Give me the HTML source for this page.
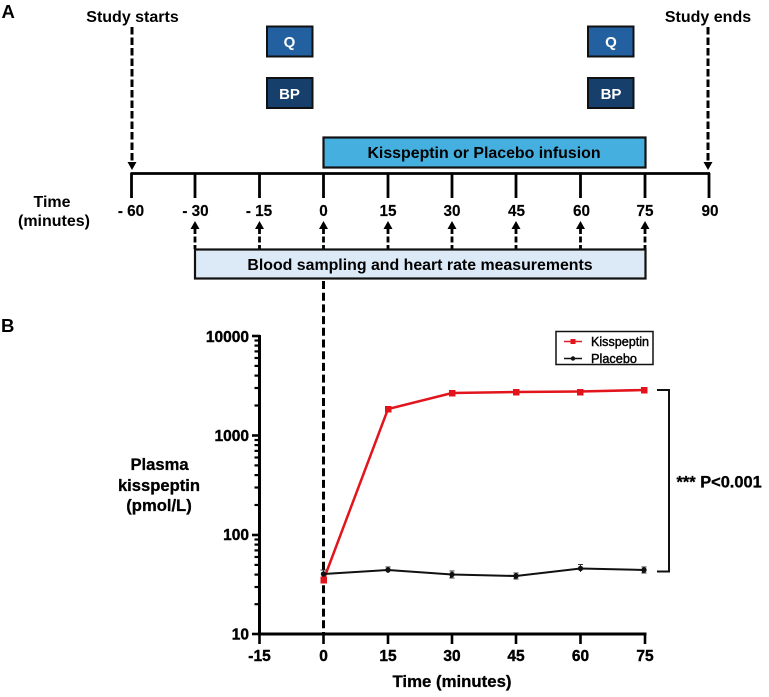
<!DOCTYPE html>
<html>
<head>
<meta charset="utf-8">
<style>
html,body{margin:0;padding:0;background:#fff;}
svg{display:block;}
text{font-family:"Liberation Sans",Arial,sans-serif;font-weight:bold;fill:#000;}
</style>
</head>
<body>
<svg width="769" height="697" viewBox="0 0 769 697" xmlns="http://www.w3.org/2000/svg">
<defs>
<g id="up"><path d="M-4.5 8 L0 0 L4.5 8 Z" fill="#000"/></g>
</defs>

<text x="1.5" y="18" font-size="18.5">A</text>
<text x="1" y="332" font-size="18.5">B</text>

<text x="132.5" y="22" font-size="16" text-anchor="middle">Study starts</text>
<text x="708" y="22" font-size="16" text-anchor="middle">Study ends</text>

<!-- Start/end dashed arrows -->
<line x1="132" y1="27" x2="132" y2="162" stroke="#000" stroke-width="3" stroke-dasharray="7.5 3"/>
<path d="M127.5 162 L136.5 162 L132 170 Z" fill="#000"/>
<line x1="708" y1="27" x2="708" y2="162" stroke="#000" stroke-width="3" stroke-dasharray="7.5 3"/>
<path d="M703.5 162 L712.5 162 L708 170 Z" fill="#000"/>

<!-- Q / BP boxes -->
<rect x="267" y="26.5" width="45.5" height="30" fill="#22609f" stroke="#111" stroke-width="2"/>
<text x="289.5" y="47" font-size="15" text-anchor="middle" style="fill:#fff">Q</text>
<rect x="267" y="78" width="45.5" height="30" fill="#173f6c" stroke="#111" stroke-width="2"/>
<text x="289.5" y="99" font-size="15" text-anchor="middle" style="fill:#fff">BP</text>
<rect x="588" y="26.5" width="45.5" height="30" fill="#22609f" stroke="#111" stroke-width="2"/>
<text x="611" y="47" font-size="15" text-anchor="middle" style="fill:#fff">Q</text>
<rect x="588" y="78" width="45.5" height="30" fill="#173f6c" stroke="#111" stroke-width="2"/>
<text x="611" y="99" font-size="15" text-anchor="middle" style="fill:#fff">BP</text>

<!-- Infusion -->
<rect x="323.5" y="137.5" width="322" height="30" fill="#45b0e0" stroke="#111" stroke-width="2.2"/>
<text x="484" y="158" font-size="15.9" text-anchor="middle">Kisspeptin or Placebo infusion</text>

<!-- Timeline -->
<line x1="130.5" y1="173.5" x2="710" y2="173.5" stroke="#000" stroke-width="2.8"/>
<g stroke="#000" stroke-width="2.8">
<line x1="131.5" y1="173" x2="131.5" y2="198"/>
<line x1="195" y1="173" x2="195" y2="198"/>
<line x1="259.5" y1="173" x2="259.5" y2="198"/>
<line x1="323.5" y1="173" x2="323.5" y2="198"/>
<line x1="388" y1="173" x2="388" y2="198"/>
<line x1="452" y1="173" x2="452" y2="198"/>
<line x1="516" y1="173" x2="516" y2="198"/>
<line x1="580.5" y1="173" x2="580.5" y2="198"/>
<line x1="645" y1="173" x2="645" y2="198"/>
<line x1="709" y1="173" x2="709" y2="198"/>
</g>
<g font-size="15.3" text-anchor="middle" stroke="#000" stroke-width="0.15">
<text x="131" y="216">- 60</text>
<text x="195.5" y="216">- 30</text>
<text x="259" y="216">- 15</text>
<text x="323.5" y="216">0</text>
<text x="388" y="216">15</text>
<text x="452" y="216">30</text>
<text x="516.5" y="216">45</text>
<text x="581.5" y="216">60</text>
<text x="645" y="216">75</text>
<text x="710" y="216">90</text>
</g>
<text x="52" y="207" font-size="16" text-anchor="middle">Time</text>
<text x="54" y="226" font-size="16" text-anchor="middle">(minutes)</text>

<!-- Sampling arrows -->
<g stroke="#000" stroke-width="2.8" stroke-dasharray="6 2.5">
<line x1="195" y1="228" x2="195" y2="249"/>
<line x1="259.5" y1="228" x2="259.5" y2="249"/>
<line x1="323.5" y1="228" x2="323.5" y2="249"/>
<line x1="388" y1="228" x2="388" y2="249"/>
<line x1="452" y1="228" x2="452" y2="249"/>
<line x1="516" y1="228" x2="516" y2="249"/>
<line x1="580.5" y1="228" x2="580.5" y2="249"/>
<line x1="645" y1="228" x2="645" y2="249"/>
</g>
<use href="#up" x="195" y="221"/>
<use href="#up" x="259.5" y="221"/>
<use href="#up" x="323.5" y="221"/>
<use href="#up" x="388" y="221"/>
<use href="#up" x="452" y="221"/>
<use href="#up" x="516" y="221"/>
<use href="#up" x="580.5" y="221"/>
<use href="#up" x="645" y="221"/>

<!-- Blood box -->
<rect x="195" y="249.5" width="450.5" height="29" fill="#dce9f6" stroke="#111" stroke-width="2.2"/>
<text x="420" y="270" font-size="15.9" text-anchor="middle">Blood sampling and heart rate measurements</text>

<!-- Zero dashed line -->
<line x1="323.5" y1="281" x2="323.5" y2="634" stroke="#000" stroke-width="3" stroke-dasharray="8 3.7"/>

<!-- Chart axes -->
<line x1="259.5" y1="335" x2="259.5" y2="635" stroke="#000" stroke-width="3"/>
<line x1="258" y1="634" x2="646.5" y2="634" stroke="#000" stroke-width="3"/>
<g stroke="#000" stroke-width="2.6">
<line x1="252" y1="336" x2="260" y2="336"/>
<line x1="252" y1="435.5" x2="260" y2="435.5"/>
<line x1="252" y1="535" x2="260" y2="535"/>
<line x1="252" y1="634" x2="260" y2="634"/>
<line x1="259.5" y1="634" x2="259.5" y2="644"/>
<line x1="323.5" y1="634" x2="323.5" y2="644"/>
<line x1="388" y1="634" x2="388" y2="644"/>
<line x1="452" y1="634" x2="452" y2="644"/>
<line x1="516" y1="634" x2="516" y2="644"/>
<line x1="580.5" y1="634" x2="580.5" y2="644"/>
<line x1="645" y1="634" x2="645" y2="644"/>
</g>
<g stroke="#000" stroke-width="2.2">
<line x1="254.5" y1="340.5" x2="260" y2="340.5"/><line x1="254.5" y1="345.6" x2="260" y2="345.6"/><line x1="254.5" y1="351.4" x2="260" y2="351.4"/><line x1="254.5" y1="358" x2="260" y2="358"/><line x1="254.5" y1="365.9" x2="260" y2="365.9"/><line x1="254.5" y1="375.6" x2="260" y2="375.6"/><line x1="254.5" y1="388" x2="260" y2="388"/><line x1="254.5" y1="405.5" x2="260" y2="405.5"/>
<line x1="254.5" y1="440" x2="260" y2="440"/><line x1="254.5" y1="445.1" x2="260" y2="445.1"/><line x1="254.5" y1="450.9" x2="260" y2="450.9"/><line x1="254.5" y1="457.5" x2="260" y2="457.5"/><line x1="254.5" y1="465.4" x2="260" y2="465.4"/><line x1="254.5" y1="475.1" x2="260" y2="475.1"/><line x1="254.5" y1="487.5" x2="260" y2="487.5"/><line x1="254.5" y1="505" x2="260" y2="505"/>
<line x1="254.5" y1="539.5" x2="260" y2="539.5"/><line x1="254.5" y1="544.6" x2="260" y2="544.6"/><line x1="254.5" y1="550.4" x2="260" y2="550.4"/><line x1="254.5" y1="557" x2="260" y2="557"/><line x1="254.5" y1="564.9" x2="260" y2="564.9"/><line x1="254.5" y1="574.6" x2="260" y2="574.6"/><line x1="254.5" y1="587" x2="260" y2="587"/><line x1="254.5" y1="604.2" x2="260" y2="604.2"/>
</g>
<g font-size="15.5" text-anchor="end" stroke="#000" stroke-width="0.4">
<text x="249" y="342">10000</text>
<text x="249" y="441">1000</text>
<text x="249" y="540">100</text>
<text x="249" y="639.5">10</text>
</g>
<g font-size="15.5" text-anchor="middle" stroke="#000" stroke-width="0.4">
<text x="259.5" y="661">-15</text>
<text x="323.5" y="661">0</text>
<text x="388" y="661">15</text>
<text x="452" y="661">30</text>
<text x="516" y="661">45</text>
<text x="580.5" y="661">60</text>
<text x="645" y="661">75</text>
</g>
<text x="452" y="687" font-size="16.8" text-anchor="middle" stroke="#000" stroke-width="0.3">Time (minutes)</text>

<g font-size="16.6" text-anchor="middle" stroke="#000" stroke-width="0.3">
<text x="159.5" y="470">Plasma</text>
<text x="159" y="491">kisspeptin</text>
<text x="159" y="511">(pmol/L)</text>
</g>

<!-- Red series -->
<polyline points="323.5,580 388,409 452,393 516,392 580,391.5 644,390" fill="none" stroke="#e2141c" stroke-width="2.5"/>
<g fill="#e3131b">
<rect x="320.5" y="576.5" width="6.5" height="7"/><rect x="385" y="406" width="6.5" height="6.5"/><rect x="449" y="390" width="6.5" height="6.5"/><rect x="513" y="389" width="6.5" height="6.5"/><rect x="577" y="389" width="6.5" height="6.5"/><rect x="641" y="387" width="6.5" height="6.5"/>
</g>

<!-- Black series -->
<polyline points="323.5,574 388,570 452,574.5 516,576 580.5,568.5 644,570" fill="none" stroke="#111" stroke-width="2"/>
<g stroke="#333" stroke-width="1">
<path d="M320.5 570H326.5M323.5 570V574"/>
<path d="M385.5 567H390.5M388 567V573"/>
<path d="M449.5 571H454.5M452 571V578H449.5M452 578H454.5"/>
<path d="M513.5 573H518.5M516 573V579H513.5M516 579H518.5"/>
<path d="M578 564.5H583M580.5 564.5V572"/>
<path d="M641.5 567H646.5M644 567V573H641.5M644 573H646.5"/>
</g>
<g fill="#111">
<circle cx="323.5" cy="574" r="2.7"/><circle cx="388" cy="570" r="2.7"/><circle cx="452" cy="574.5" r="2.7"/><circle cx="516" cy="576" r="2.7"/><circle cx="580.5" cy="568.5" r="2.7"/><circle cx="644" cy="570" r="2.7"/>
</g>

<!-- Legend -->
<rect x="556" y="331.5" width="97" height="33" fill="#fff" stroke="#111" stroke-width="1.5"/>
<line x1="564" y1="341.5" x2="582" y2="341.5" stroke="#e21f26" stroke-width="1.5"/>
<rect x="570.5" y="339" width="5" height="5" fill="#e3131b"/>
<line x1="564" y1="358.5" x2="582" y2="358.5" stroke="#111" stroke-width="1.5"/>
<circle cx="573" cy="358.5" r="2.2" fill="#111"/>
<text x="591" y="346" font-size="12.5" textLength="58" lengthAdjust="spacingAndGlyphs" style="font-weight:normal" stroke="#000" stroke-width="0.4">Kisspeptin</text>
<text x="591" y="363" font-size="12.5" textLength="46" lengthAdjust="spacingAndGlyphs" style="font-weight:normal" stroke="#000" stroke-width="0.4">Placebo</text>

<!-- Bracket -->
<path d="M657 390 H669 V571.5 H657" fill="none" stroke="#111" stroke-width="2"/>
<text x="676.5" y="487.5" font-size="16.4" stroke="#000" stroke-width="0.3">*** P&lt;0.001</text>
</svg>
</body>
</html>
